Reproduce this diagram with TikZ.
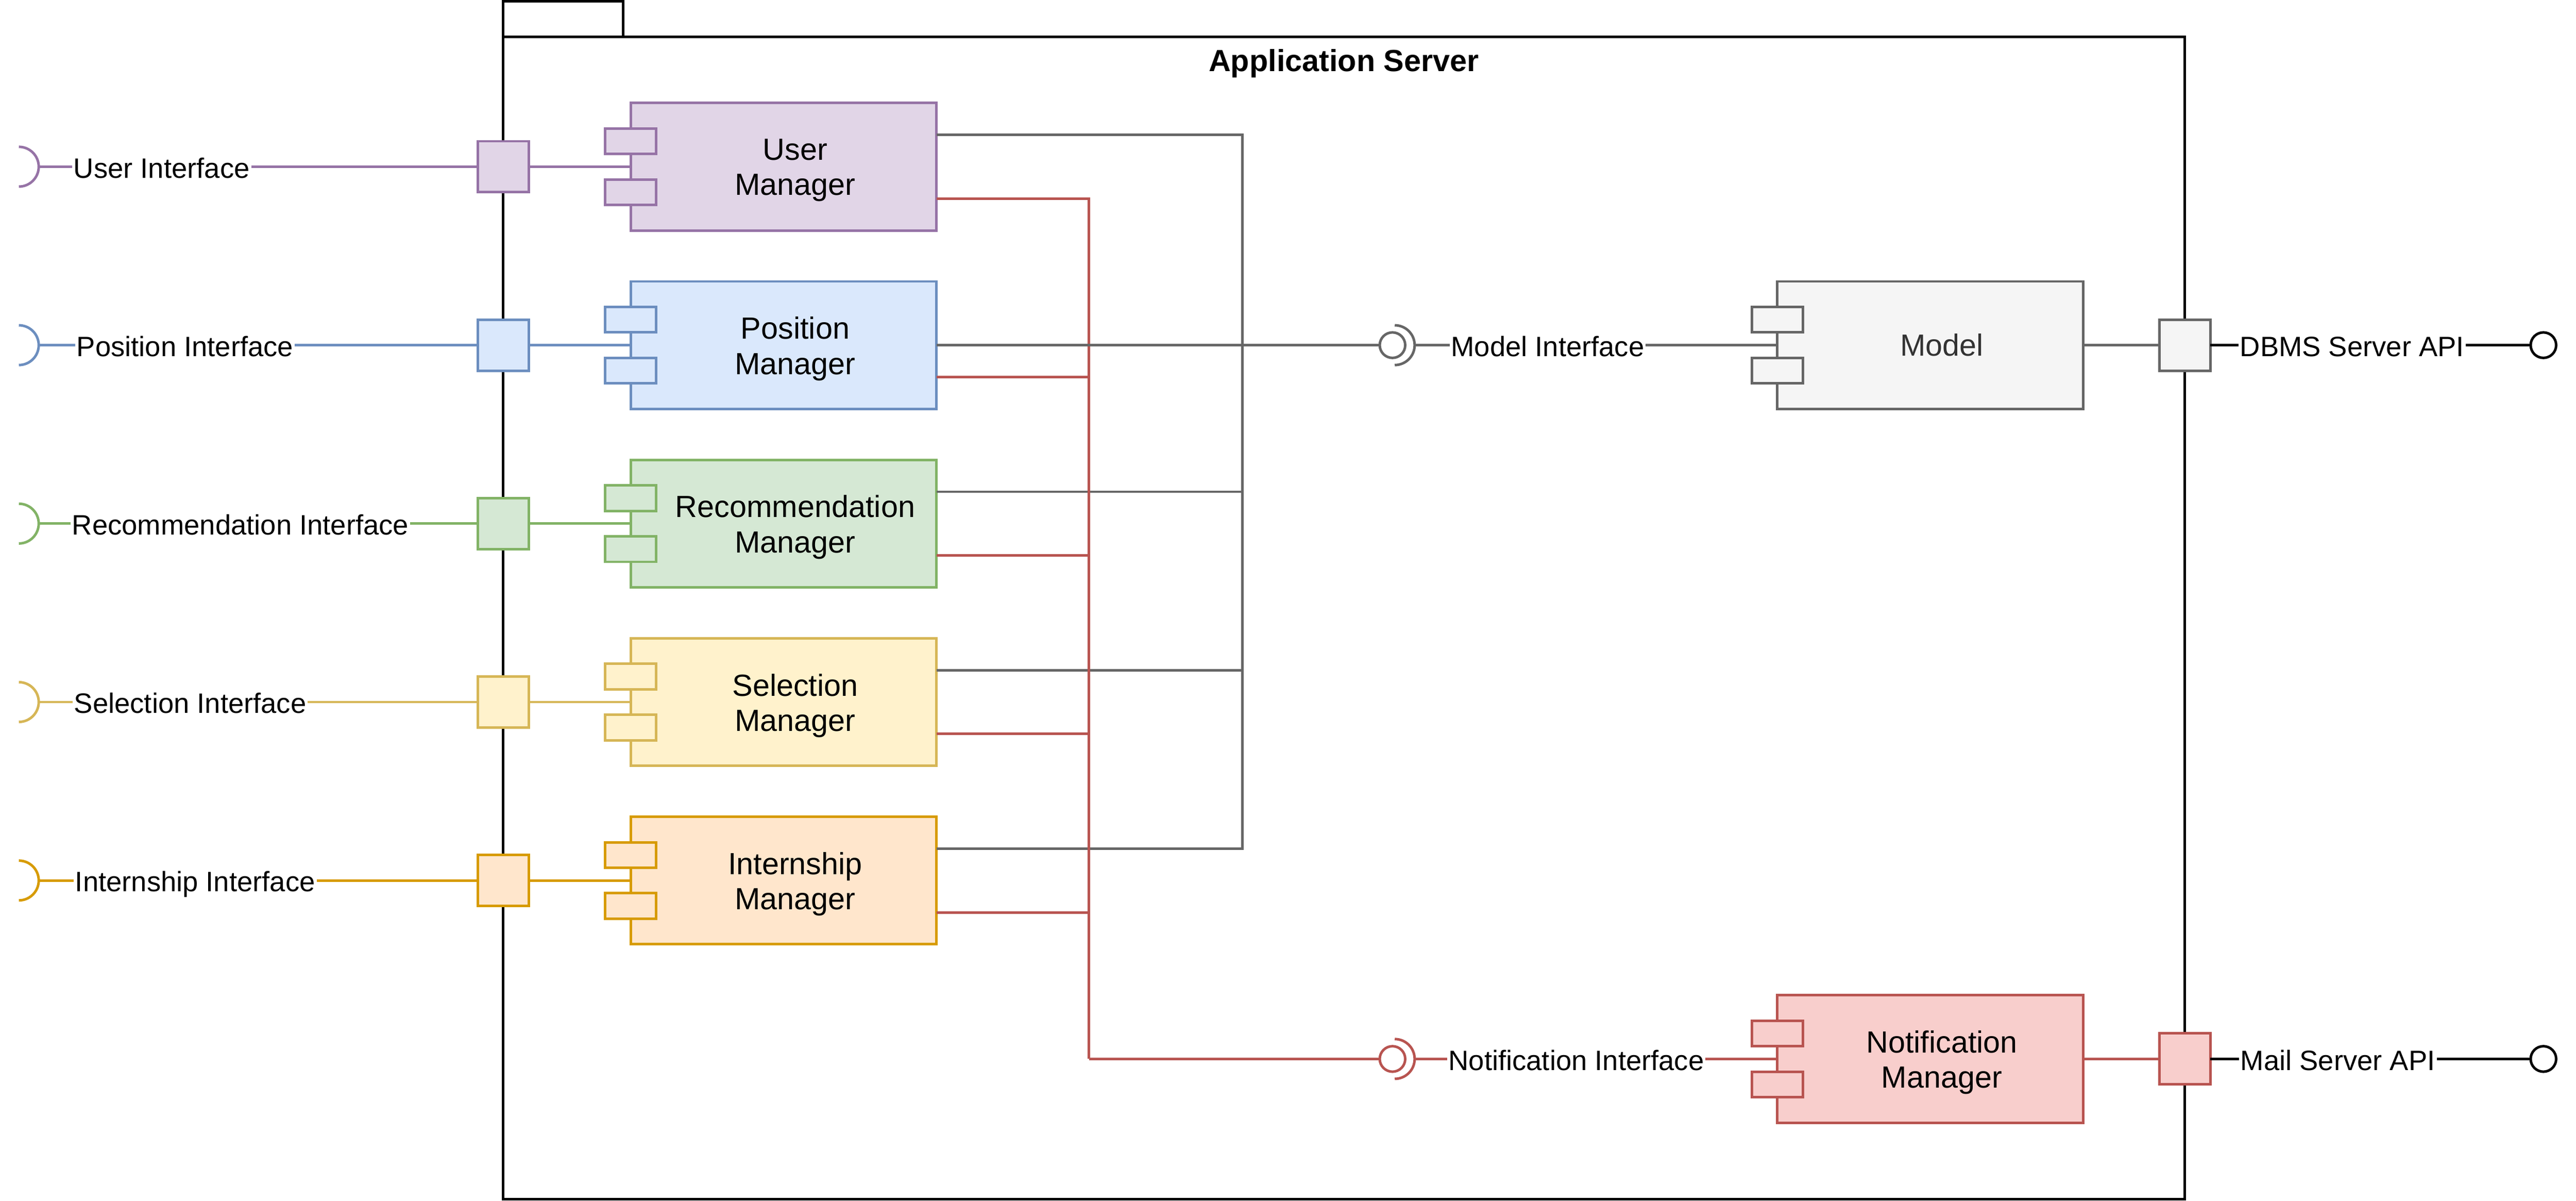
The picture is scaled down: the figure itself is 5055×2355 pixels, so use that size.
\documentclass[tikz,border=0pt]{standalone}
\usepackage{fontspec}
\setmainfont{Liberation Sans}
\usetikzlibrary{calc}
\definecolor{pfill}{HTML}{E1D5E7}\definecolor{pstroke}{HTML}{9673A6}
\definecolor{bfill}{HTML}{DAE8FC}\definecolor{bstroke}{HTML}{6C8EBF}
\definecolor{grfill}{HTML}{D5E8D4}\definecolor{grstroke}{HTML}{82B366}
\definecolor{yfill}{HTML}{FFF2CC}\definecolor{ystroke}{HTML}{D6B656}
\definecolor{ofill}{HTML}{FFE6CC}\definecolor{ostroke}{HTML}{D79B00}
\definecolor{rfill}{HTML}{F8CECC}\definecolor{rstroke}{HTML}{B85450}
\definecolor{gfill}{HTML}{F5F5F5}\definecolor{gstroke}{HTML}{666666}
\definecolor{gtext}{HTML}{333333}
\begin{document}
\begin{tikzpicture}[x=0.2pt,y=-0.2pt,line width=1pt,
  comp/.style={draw,rectangle,minimum width=120pt,minimum height=50pt,inner sep=0pt,outer sep=0pt},
  tabbox/.style={draw,rectangle,minimum width=20pt,minimum height=10pt,inner sep=0pt,outer sep=0pt},
  port/.style={draw,rectangle,minimum size=20pt,inner sep=0pt,outer sep=0pt},
  ball/.style={draw,circle,fill=white,minimum size=10pt,inner sep=0pt,outer sep=0pt},
  iflabel/.style={fill=white,inner xsep=0.6pt,inner ysep=0.4pt,anchor=base west,font=\fontsize{11}{13}\selectfont},
  complabel/.style={align=center,font=\fontsize{12}{13.8}\selectfont,inner sep=0pt},
]
\useasboundingbox (0,0) rectangle (5055,2355);
% package frame
\node[draw,rectangle,fill=white,minimum width=47pt,minimum height=14pt,inner sep=0pt,outer sep=0pt,anchor=north west] (tab) at (987.5,2.5) {};
\node[draw,rectangle,fill=white,minimum width=660pt,minimum height=456pt,inner sep=0pt,outer sep=0pt,anchor=north west] (frame) at (987.5,72.5) {};
\node[anchor=base,font=\fontsize{12}{14}\selectfont\bfseries,inner sep=0pt] (title) at (2637,140) {Application Server};

% junction coordinates
\coordinate (gj) at (2438,677);
\coordinate (rj) at (2137,2077);

% manager rows
\foreach \id/\y/\fc/\sc/\toptext/\iftext/\lx in {
  u/327/pfill/pstroke/User/User Interface/139,
  p/677/bfill/bstroke/Position/Position Interface/145,
  r/1027/grfill/grstroke/Recommendation/Recommendation Interface/136,
  s/1377/yfill/ystroke/Selection/Selection Interface/140,
  i/1727/ofill/ostroke/Internship/Internship Interface/142}{
  \node[comp,fill=\fc,draw=\sc] (\id-box) at (1537.5,\y) {};
  \node[tabbox,fill=\fc,draw=\sc] (\id-t1) at (1237.5,\y-50) {};
  \node[tabbox,fill=\fc,draw=\sc] (\id-t2) at (1237.5,\y+50) {};
  \node[complabel] (\id-text) at (1560.5,\y+7) {\toptext\\Manager};
  \node[port,fill=\fc,draw=\sc] (\id-port) at (987.5,\y) {};
  \coordinate (\id-sock) at (76,\y);
  \draw[draw=\sc] (37,\y-39) arc (90:-90:7.8pt);
  \draw[draw=\sc] (\id-sock) -- (\id-port.west);
  \draw[draw=\sc] (\id-port.east) -- (\id-box.west);
  \node[iflabel] (\id-lab) at (\lx,\y+22) {\iftext};
}

% model
\node[comp,fill=gfill,draw=gstroke] (model) at (3787.5,677) {};
\node[tabbox,fill=gfill,draw=gstroke] (model-t1) at (3487.5,627) {};
\node[tabbox,fill=gfill,draw=gstroke] (model-t2) at (3487.5,727) {};
\node[complabel,text=gtext] (model-text) at (3810.5,677) {Model};
\node[port,fill=gfill,draw=gstroke] (mport) at (4287.5,677) {};
\node[ball,draw=black] (dbc) at (4991,677) {};

% notification manager
\node[comp,fill=rfill,draw=rstroke] (nm) at (3787.5,2077) {};
\node[tabbox,fill=rfill,draw=rstroke] (nm-t1) at (3487.5,2027) {};
\node[tabbox,fill=rfill,draw=rstroke] (nm-t2) at (3487.5,2127) {};
\node[complabel] (nm-text) at (3810.5,2084) {Notification\\Manager};
\node[port,fill=rfill,draw=rstroke] (nport) at (4287.5,2077) {};
\node[ball,draw=black] (mailc) at (4991,2077) {};

% gray connectors to the model interface
\foreach \id in {u,r,s,i}{
  \draw[gstroke] ($(\id-box.north east)!.25!(\id-box.south east)$) -| (gj);
}
% red connectors to the notification interface
\foreach \id in {u,p,r,s,i}{
  \draw[rstroke] ($(\id-box.north east)!.75!(\id-box.south east)$) -| (rj);
}

% model interface
\node[ball,draw=gstroke] (mball) at (2732.5,677) {};
\draw[gstroke] (p-box.east) -- (mball.west);
\draw[gstroke] (2737,638) arc (90:-90:7.8pt);
\coordinate (msock) at (2776,677);
\draw[gstroke] (msock) -- (model.west);
\node[iflabel] (mlab) at (2842,699) {Model Interface};
\draw[gstroke] (model.east) -- (mport.west);
\draw[black] (mport.east) -- (dbc.west);
\node[iflabel] (dblab) at (4390,699) {DBMS Server API};

% notification interface
\node[ball,draw=rstroke] (nball) at (2732.5,2077) {};
\draw[rstroke] (rj) -- (nball.west);
\draw[rstroke] (2737,2038) arc (90:-90:7.8pt);
\coordinate (nsock) at (2776,2077);
\draw[rstroke] (nsock) -- (nm.west);
\node[iflabel] (nlab) at (2837,2099) {Notification Interface};
\draw[rstroke] (nm.east) -- (nport.west);
\draw[black] (nport.east) -- (mailc.west);
\node[iflabel] (mllab) at (4391,2099) {Mail Server API};
\end{tikzpicture}
\end{document}
